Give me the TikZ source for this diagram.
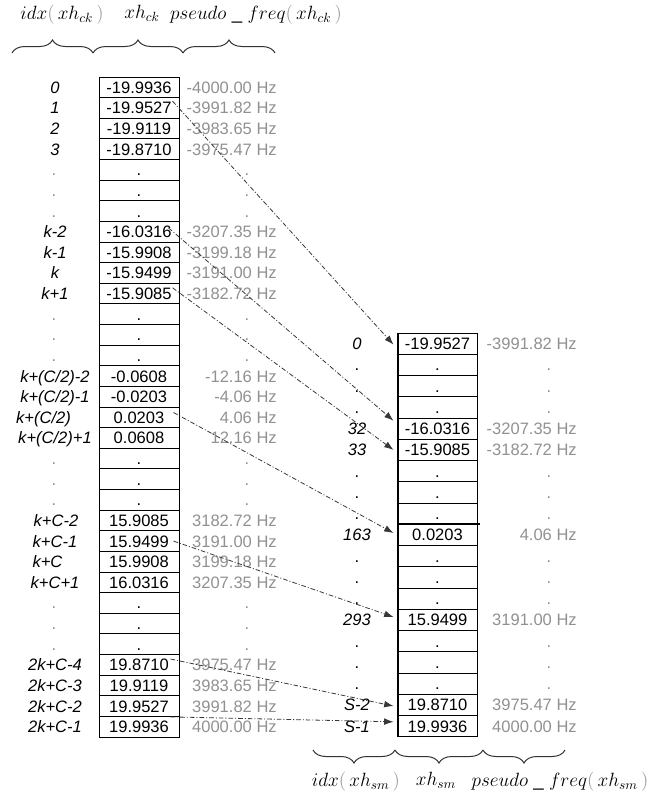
\documentclass[tikz,border=0pt]{standalone}
\usepackage{fontspec}
\setmainfont{Liberation Sans}
\usetikzlibrary{arrows.meta,decorations.pathreplacing,calc}
\newcommand\cellfont{\fontsize{12.4}{14}\selectfont}
\definecolor{hzgray}{gray}{0.57}
\definecolor{lngray}{gray}{0.22}
\definecolor{pargray}{gray}{0.6}
\begin{document}
\begin{tikzpicture}[x=0.75pt,y=-0.75pt,
  base/.style={inner sep=0pt, text height=8.9pt, text depth=0pt, font=\cellfont},
  cellL/.style={base, draw, line width=0.75pt, minimum width=60pt, minimum height=15.47pt},
  cellR/.style={base, draw, line width=0.75pt, minimum width=59.25pt, minimum height=15.95pt},
  lab/.style={base, font=\cellfont\itshape},
  hz/.style={base, text=hzgray, anchor=east},
  gdot/.style={base, text=hzgray},
  conn/.style={draw=lngray, line width=0.6pt, dash pattern=on 3.5pt off 1.5pt on 0.75pt off 1.5pt, -{Latex[length=7pt,width=5pt]}},
  brc/.style={decorate, decoration={brace, amplitude=9.75pt}, line width=0.75pt, draw=black!80},
  hdr/.style={inner sep=0pt, font=\fontsize{14}{16}\selectfont}
]
\useasboundingbox (0,0) rectangle (656,800);

% ---------- headers ----------
\node[hdr] (h1) at (62,15) {$idx\textcolor{pargray}{(}\,xh_{ck}\,\textcolor{pargray}{)}$};
\node[hdr] (h2) at (142,13) {$xh_{ck}$};
\node[hdr] (h3) at (256,15) {$pseudo\;\_\;freq\textcolor{pargray}{(}\,xh_{ck}\,\textcolor{pargray}{)}$};
\draw[brc] (12,53) -- (93,53);
\draw[brc] (93,53) -- (183,53);
\draw[brc] (183,53) -- (275,53);

% ---------- left table ----------
\foreach \i/\lx/\lab/\val/\hz in {
0/55/0/-19.9936/-4000.00 Hz,
1/55/1/-19.9527/-3991.82 Hz,
2/55/2/-19.9119/-3983.65 Hz,
3/55/3/-19.8710/-3975.47 Hz,
7/55/k-2/-16.0316/-3207.35 Hz,
8/55/k-1/-15.9908/-3199.18 Hz,
9/55/k/-15.9499/-3191.00 Hz,
10/55/k+1/-15.9085/-3182.72 Hz,
14/55/{k+(C/2)-2}/-0.0608/-12.16 Hz,
15/55/{k+(C/2)-1}/-0.0203/-4.06 Hz,
16/43.5/{k+(C/2)}/0.0203/4.06 Hz,
17/55/{k+(C/2)+1}/0.0608/12.16 Hz,
21/56/k+C-2/15.9085/3182.72 Hz,
22/55/k+C-1/15.9499/3191.00 Hz,
23/47.5/k+C/15.9908/3199.18 Hz,
24/55/k+C+1/16.0316/3207.35 Hz,
28/55/2k+C-4/19.8710/3975.47 Hz,
29/55/2k+C-3/19.9119/3983.65 Hz,
30/55/2k+C-2/19.9527/3991.82 Hz,
31/55/2k+C-1/19.9936/4000.00 Hz}{
  \pgfmathsetmacro\yy{77+20.625*(\i+0.5)}
  \node[cellL] (L\i) at (139,\yy) {\val};
  \node[lab] (LL\i) at (\lx,\yy) {\lab};
  \node[hz] (LH\i) at (277,\yy) {\hz};
}
\foreach \i in {4,5,6,11,12,13,18,19,20,25,26,27}{
  \pgfmathsetmacro\yy{77+20.625*(\i+0.5)}
  \node[cellL] (L\i) at (139,\yy) {.};
  \node[gdot] (LL\i) at (54,\yy) {.};
  \node[gdot] (LH\i) at (247,\yy) {.};
}

% ---------- right table ----------
\foreach \i/\lab/\val/\hz in {
0/0/-19.9527/-3991.82 Hz,
4/32/-16.0316/-3207.35 Hz,
5/33/-15.9085/-3182.72 Hz,
9/163/0.0203/4.06 Hz,
13/293/15.9499/3191.00 Hz,
17/S-2/19.8710/3975.47 Hz,
18/S-1/19.9936/4000.00 Hz}{
  \pgfmathsetmacro\yy{333+21.26*(\i+0.5)}
  \node[cellR] (R\i) at (437.5,\yy) {\val};
  \node[lab] (RL\i) at (357,\yy) {\lab};
  \node[hz] (RH\i) at (577,\yy) {\hz};
}
\foreach \i in {1,2,3,6,7,8,10,11,12,14,15,16}{
  \pgfmathsetmacro\yy{333+21.26*(\i+0.5)}
  \node[cellR] (R\i) at (437.5,\yy) {.};
  \node[base] (RL\i) at (357,\yy) {.};
  \node[gdot] (RH\i) at (549,\yy) {.};
}
\draw[line width=1.5pt] (R0.north west) -- (R18.south west);
\draw[line width=1.3pt] (R9.north west) -- ([xshift=2pt]R9.north east);

% ---------- connectors ----------
\draw[conn] ($(L1.north east)+(-7,4)$) -- ($(R0.west)+(-4,1)$);
\draw[conn] ($(L7.north east)+(-11,7)$) -- ($(R4.west)+(-4,-8)$);
\draw[conn] ($(L10.north east)+(-7,5)$) -- ($(R5.west)+(-4,0)$);
\draw[conn] ($(L16.north east)+(-6,6)$) -- ($(R9.west)+(-4,-2)$);
\draw[conn] ($(L22.east)+(-6,0)$) -- ($(R13.west)+(-4,-3)$);
\draw[conn] ($(L28.north east)+(-9,5)$) -- ($(R17.west)+(-4,1)$);
\draw[conn] ($(L31.north east)+(-9,1)$) -- ($(R18.west)+(-4,-4.5)$);

% ---------- bottom braces and labels ----------
\draw[brc, decoration={mirror}] (313,750) -- (395,750);
\draw[brc, decoration={mirror}] (395,750) -- (483,750);
\draw[brc, decoration={mirror}] (483,750) -- (565,750);
\node[hdr] (b1) at (356,782) {$idx\textcolor{pargray}{(}\,xh_{sm}\,\textcolor{pargray}{)}$};
\node[hdr] (b2) at (436,780) {$xh_{sm}$};
\node[hdr] (b3) at (560,782) {$pseudo\;\_\;freq\textcolor{pargray}{(}\,xh_{sm}\,\textcolor{pargray}{)}$};
\end{tikzpicture}
\end{document}
